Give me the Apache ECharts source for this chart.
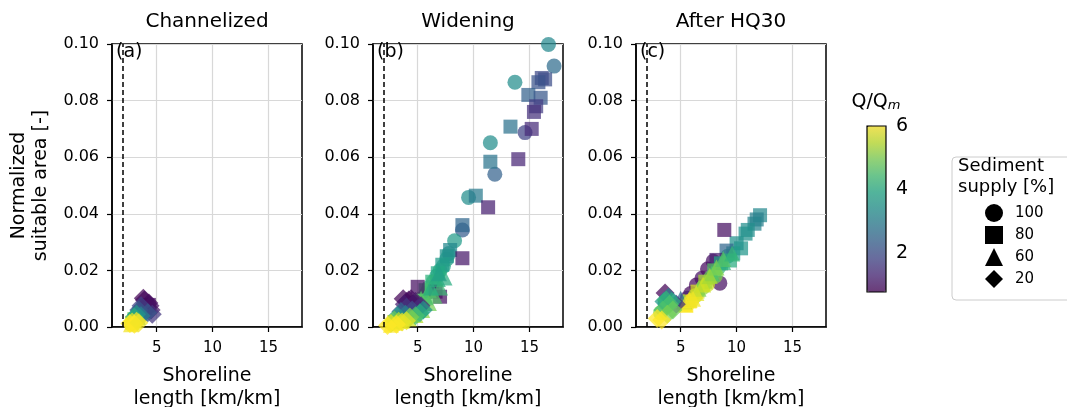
<!DOCTYPE html>
<html>
<head>
<meta charset="utf-8">
<script src="https://cdn.jsdelivr.net/npm/echarts@6/dist/echarts.min.js"></script>
<style>
html,body{margin:0;padding:0;background:#fff;}
#chart{width:1067px;height:407px;}
</style>
</head>
<body>
<div id="chart"></div>
<script>
// ---------- DATA ----------
const panelTitles = ['Channelized', 'Widening', 'After HQ30'];
const panelLabels = ['(a)', '(b)', '(c)'];
const supplyNames = ['100', '80', '60', '20'];
const supplySymbols = ['circle', 'rect', 'triangle', 'diamond'];
const xTicks = [5, 10, 15];
const colorbarTicks = [2, 4, 6];
const refLineX = 2;
const qMin = 0.76, qMax = 6;
const xMin = 1, xMax = 18, yMin = 0, yMax = 0.1, yStep = 0.02;

// [shoreline length, normalized suitable area, Q/Qm]
const chan100 = [[3.3,0.0040,3.5],[3.6,0.0055,2.6],[3.9,0.0068,1.6],[3.1,0.0030,4.5],[2.9,0.0022,5.6],[2.7,0.0012,6.0],[3.4,0.0048,3.8],[3.8,0.0062,2.2],[4.1,0.0072,1.3]];
const chan80  = [[3.4,0.0045,3.0],[3.8,0.0062,2.0],[4.1,0.0075,1.2],[3.0,0.0028,5.0],[2.8,0.0015,5.7],[3.3,0.0038,4.0],[3.6,0.0052,3.0],[4.3,0.0078,1.0]];
const chan60  = [[3.5,0.0050,3.2],[3.95,0.0070,1.5],[2.95,0.0025,5.2],[2.7,0.0010,5.9],[3.3,0.0035,4.4],[3.7,0.0060,2.4],[4.2,0.0080,1.0]];
const chan20  = [[3.8,0.0102,0.8],[4.3,0.0085,0.9],[4.5,0.0060,1.1],[3.9,0.0095,0.9],[4.4,0.0075,1.0],[4.6,0.0045,1.6],[3.6,0.0075,1.8],[3.4,0.0060,2.2],[4.2,0.0050,2.2],[3.6,0.0040,3.0],[3.2,0.0045,3.5],[3.0,0.0035,4.0],[2.8,0.0018,5.8],[3.2,0.0020,6.0],[2.6,0.0012,6.0],[3.0,0.0010,6.0],[3.4,0.0015,5.9]];

const wid100 = [[16.7,0.0998,3.2],[17.2,0.0922,2.6],[13.7,0.0865,3.3],[14.6,0.0687,1.8],[11.5,0.0651,3.3],[11.9,0.054,2.4],[9.55,0.0458,3.3],[9.0,0.0343,2.3],[8.3,0.0305,3.6],[7.8,0.026,3.6],[7.6,0.024,3.8],[7.3,0.0215,3.8],[7.0,0.020,4.0],[6.7,0.0180,3.9],[6.4,0.016,4.2],[6.0,0.0140,4.3],[5.8,0.012,4.5],[5.3,0.0100,4.6],[5.0,0.008,4.8],[4.6,0.0065,5.0],[4.2,0.005,5.2],[3.8,0.0038,5.5],[3.4,0.0028,5.6],[2.8,0.0015,5.9]];
const wid80 = [[16.1,0.088,1.9],[16.4,0.0875,2.0],[15.8,0.0865,2.1],[14.9,0.082,2.4],[16.0,0.081,2.2],[15.6,0.078,1.7],[15.4,0.076,1.5],[13.3,0.0708,2.7],[15.2,0.070,1.4],[11.5,0.0584,2.8],[14.0,0.0593,1.3],[10.2,0.0464,2.9],[11.3,0.0423,1.2],[9.0,0.036,2.5],[7.9,0.0272,3.2],[7.6,0.025,3.4],[9.0,0.0243,1.1],[7.2,0.022,3.6],[6.8,0.019,3.9],[6.3,0.016,4.1],[5.7,0.013,4.4],[5.0,0.0142,1.0],[7.0,0.0107,1.0],[6.6,0.0125,1.0],[4.9,0.009,4.7],[4.2,0.006,5.0],[3.5,0.0035,5.4],[2.9,0.0018,5.8]];
const wid60 = [[6.8,0.017,4.0],[6.0,0.013,4.3],[5.3,0.010,4.6],[4.6,0.0075,4.9],[3.9,0.0050,5.3],[3.2,0.0028,5.7],[5.5,0.0085,5.0],[4.4,0.0045,5.6],[2.6,0.0008,6.0],[3.0,0.0015,5.9],[3.6,0.0022,5.8],[4.2,0.0030,5.6],[4.8,0.0042,5.4],[5.4,0.0060,5.1],[6.0,0.0085,4.9],[6.5,0.0110,4.6],[7.0,0.0140,4.3],[7.4,0.0175,4.0],[5.7,0.0105,4.5],[6.2,0.0140,4.0],[6.9,0.0190,3.7]];
const wid20 = [[3.7,0.0100,0.8],[4.2,0.0095,0.9],[4.6,0.0082,1.0],[4.0,0.0090,1.0],[4.4,0.0100,0.9],[3.8,0.0080,1.2],[4.8,0.0090,1.1],[5.0,0.0065,1.3],[5.3,0.0075,1.4],[4.0,0.0070,1.6],[4.5,0.0060,2.0],[3.5,0.0055,2.5],[3.9,0.0045,3.0],[3.2,0.0040,3.5],[5.5,0.0060,3.5],[5.2,0.0050,4.0],[4.8,0.0040,4.5],[2.9,0.0025,4.8],[4.3,0.0035,5.0],[3.3,0.0020,5.5],[2.6,0.0012,5.8],[3.6,0.0018,5.9],[4.0,0.0022,5.8],[3.1,0.0010,6.0],[2.3,0.0005,6.0]];

const hq100 = [[5.9,0.0118,0.9],[6.4,0.0148,0.9],[6.9,0.0172,1.0],[7.4,0.0205,0.9],[7.9,0.0232,1.0],[5.6,0.0102,1.2],[8.5,0.0155,1.0],[5.6,0.0080,5.8],[6.3,0.0110,5.5],[7.0,0.0140,5.2],[7.7,0.0175,4.8],[8.4,0.0210,4.3],[9.2,0.0250,3.9],[6.0,0.0095,5.9],[3.6,0.0085,3.8],[3.2,0.0050,5.0],[7.4,0.0150,5.6],[8.1,0.018,5.0]];
const hq80 = [[12.1,0.0395,3.2],[11.8,0.0380,3.0],[11.6,0.0365,3.1],[11.0,0.0343,3.3],[10.8,0.0330,3.4],[10.4,0.0278,3.5],[10.0,0.0296,3.4],[9.7,0.026,3.6],[9.1,0.027,2.5],[8.9,0.0343,1.0],[8.2,0.0237,1.2],[8.6,0.0225,3.8],[8.0,0.0200,4.6],[7.2,0.0160,5.3],[6.5,0.0125,5.7],[5.8,0.0090,6.0],[5.5,0.0075,6.0],[9.4,0.0235,4.0]];
const hq60 = [[5.3,0.0090,5.0],[6.6,0.0135,4.9],[7.8,0.019,4.5],[8.8,0.023,4.1],[5.0,0.0100,2.5],[5.8,0.0095,5.9],[6.4,0.0120,5.8],[7.0,0.0150,5.6],[7.6,0.0180,5.3],[8.2,0.0210,5.0],[8.8,0.0240,4.6],[9.6,0.0260,4.2],[5.4,0.0080,6.0],[6.1,0.0100,5.9]];
const hq20 = [[3.6,0.0120,0.8],[4.6,0.0080,1.5],[3.9,0.0105,3.0],[3.5,0.0090,3.6],[3.7,0.0095,4.2],[4.2,0.0090,4.0],[4.0,0.0080,4.5],[3.4,0.0060,4.5],[3.8,0.0045,5.0],[4.3,0.0060,4.8],[2.9,0.0030,6.0],[3.3,0.0025,6.0]];

const panelData = [
  [chan100, chan80, chan60, chan20],
  [wid100, wid80, wid60, wid20],
  [hq100, hq80, hq60, hq20]
];

// ---------- STYLE / LAYOUT ----------
const FONT = 'DejaVu Sans';
const viridisA = ['rgba(68,1,84,0.72)','rgba(72,36,117,0.72)','rgba(65,68,135,0.72)','rgba(53,95,141,0.72)',
  'rgba(42,120,142,0.72)','rgba(33,145,140,0.72)','rgba(34,168,132,0.72)','rgba(68,191,112,0.72)',
  'rgba(122,209,81,0.72)','rgba(189,223,38,0.72)','rgba(253,231,37,0.72)'];
const symbolSizes = [15, 14, 16, 19];
const gridLefts = [112, 373, 636];
const gridW = 190, gridTop = 44, gridH = 283;

const grids = [], xAxes = [], yAxes = [], series = [], titles = [];
gridLefts.forEach((L, p) => {
  grids.push({left: L, top: gridTop, width: gridW, height: gridH, show: true,
    outerBoundsMode: 'none', containLabel: false,
    borderColor: '#000', borderWidth: 1.5, backgroundColor: 'transparent'});
  xAxes.push({
    type: 'value', gridIndex: p, min: xMin, max: xMax,
    name: 'Shoreline\nlength [km/km]', nameLocation: 'middle', nameGap: 38,
    nameTextStyle: {fontFamily: FONT, fontSize: 19, lineHeight: 23, color: '#000'},
    axisLine: {show: true, onZero: false, lineStyle: {color: '#000', width: 1.5}},
    axisTick: {show: true, length: 5, lineStyle: {color: '#000', width: 1.2}, customValues: xTicks},
    axisLabel: {fontFamily: FONT, fontSize: 15, color: '#000', margin: 14, customValues: xTicks},
    splitLine: {show: true, lineStyle: {color: '#d8d8d8', width: 1.2}}
  });
  yAxes.push({
    type: 'value', gridIndex: p, min: yMin, max: yMax, interval: yStep,
    name: p === 0 ? 'Normalized\nsuitable area [-]' : '',
    nameLocation: 'middle', nameGap: 60, nameRotate: 90,
    nameTextStyle: {fontFamily: FONT, fontSize: 19, lineHeight: 22, color: '#000'},
    axisLine: {show: true, lineStyle: {color: '#000', width: 1.5}},
    axisTick: {show: true, length: 5, lineStyle: {color: '#000', width: 1.2}},
    axisLabel: {fontFamily: FONT, fontSize: 16, color: '#000', margin: 13,
      formatter: v => v.toFixed(2)},
    splitLine: {show: true, lineStyle: {color: '#d8d8d8', width: 1.2}}
  });
  panelData[p].forEach((d, s) => {
    const ser = {
      type: 'scatter', name: supplyNames[s], xAxisIndex: p, yAxisIndex: p,
      symbol: supplySymbols[s], symbolSize: symbolSizes[s], data: d,
      itemStyle: {opacity: 1}, silent: true, z: 3
    };
    if (s === 0) {
      ser.markLine = {silent: true, symbol: ['none', 'none'], label: {show: false},
        lineStyle: {color: '#000', type: [5, 3], width: 1.5},
        data: [{xAxis: refLineX}], z: 4};
    }
    series.push(ser);
  });
  titles.push({text: panelTitles[p], left: L + gridW / 2, top: 12, textAlign: 'center', padding: 0,
    textStyle: {fontFamily: FONT, fontSize: 20, fontWeight: 'normal', color: '#000'}});
  titles.push({text: panelLabels[p], left: L + 4, top: 43, padding: 0,
    textStyle: {fontFamily: FONT, fontSize: 19, fontWeight: 'normal', color: '#000'}});
});

// colour bar axis (grid 3)
const cbLeft = 867, cbTop = 126, cbW = 19, cbH = 166;
grids.push({left: cbLeft, top: cbTop, width: cbW, height: cbH, show: true,
  outerBoundsMode: 'none', containLabel: false,
  borderColor: '#000', borderWidth: 1.2, backgroundColor: 'transparent', z: 5});
xAxes.push({type: 'value', gridIndex: 3, show: false, min: 0, max: 1});
yAxes.push({type: 'value', gridIndex: 3, position: 'right', min: qMin, max: qMax,
  axisLine: {show: false},
  axisTick: {show: true, length: 5, lineStyle: {color: '#000', width: 1.2}, customValues: colorbarTicks},
  axisLabel: {fontFamily: FONT, fontSize: 19, color: '#000', margin: 10, customValues: colorbarTicks},
  splitLine: {show: false}});

titles.push({text: 'Q/Q{s|m}', left: 876, top: 93, textAlign: 'center', padding: 0,
  textStyle: {fontFamily: FONT, fontSize: 19, fontWeight: 'normal', color: '#000',
    rich: {s: {fontFamily: FONT, fontSize: 13, fontStyle: 'italic', color: '#000', lineHeight: 12, verticalAlign: 'bottom'}}}});
titles.push({text: 'Sediment\nsupply [%]', left: 958, top: 156, padding: 0,
  textStyle: {fontFamily: FONT, fontSize: 18, lineHeight: 21, fontWeight: 'normal', color: '#000'}});

const option = {
  animation: false,
  backgroundColor: '#fff',
  title: titles,
  grid: grids,
  xAxis: xAxes,
  yAxis: yAxes,
  visualMap: {
    type: 'continuous', min: qMin, max: qMax, dimension: 2,
    seriesIndex: series.map((_, i) => i),
    inRange: {color: viridisA},
    calculable: false, hoverLink: false, realtime: false,
    left: cbLeft, top: cbTop, itemWidth: cbW, itemHeight: cbH, padding: 0,
    orient: 'vertical', text: null, showLabel: false
  },
  legend: {
    orient: 'vertical', left: 952, top: 157, padding: [47, 110, 12, 33],
    itemWidth: 18, itemHeight: 18, itemGap: 4, selectedMode: false,
    backgroundColor: '#fff', borderColor: '#cccccc', borderWidth: 1, borderRadius: 4,
    textStyle: {fontFamily: FONT, fontSize: 15, color: '#000', padding: [0, 0, 0, 7]},
    data: supplyNames.map((n, i) => ({name: n, icon: supplySymbols[i], itemStyle: {color: '#000', opacity: 1}}))
  },
  series: series
};

const chart = echarts.init(document.getElementById('chart'), null, {renderer: 'canvas'});
chart.setOption(option);
</script>
</body>
</html>
